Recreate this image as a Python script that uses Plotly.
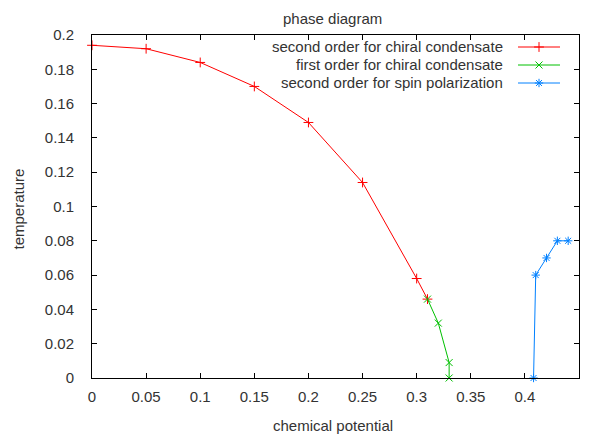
import plotly.graph_objects as go

# data
chiral2_mu = [0.0, 0.05, 0.10, 0.15, 0.20, 0.25, 0.30, 0.31]
chiral2_T = [0.194, 0.192, 0.184, 0.170, 0.149, 0.114, 0.058, 0.046]
chiral1_mu = [0.31, 0.32, 0.33, 0.33]
chiral1_T = [0.046, 0.032, 0.009, 0.0]
spin_mu = [0.408, 0.41, 0.42, 0.43, 0.44]
spin_T = [0.0, 0.06, 0.07, 0.08, 0.08]

names = ["second order for chiral condensate", "first order for chiral condensate",
         "second order for spin polarization"]
colors = ["#ff0000", "#00c000", "#0080ff"]
symbols = ["cross-thin", "x-thin", "asterisk"]
xs = [chiral2_mu, chiral1_mu, spin_mu]
ys = [chiral2_T, chiral1_T, spin_T]

x_ticks = [0, 0.05, 0.1, 0.15, 0.2, 0.25, 0.3, 0.35, 0.4, 0.45]
x_ticklabels = ["0", "0.05", "0.1", "0.15", "0.2", "0.25", "0.3", "0.35", "0.4", "0.45"]
y_ticks = [0, 0.02, 0.04, 0.06, 0.08, 0.1, 0.12, 0.14, 0.16, 0.18, 0.2]
y_ticklabels = ["0", "0.02", "0.04", "0.06", "0.08", "0.1", "0.12", "0.14", "0.16", "0.18", "0.2"]

TXT = "#333"
FS = 15

# page body has an 8px margin, so the figure sits at (8, 8) in the window
OFF = 8
W, H = 592 - OFF, 437 - OFF
L, R, T, B = 92 - OFF, 13, 35 - OFF, 59
PW, PH = W - L - R, H - T - B


def px_x(wx):
    return (wx - OFF - L) / PW


def px_y(wy):
    return (H - B - (wy - OFF)) / PH


fig = go.Figure()
for x, y, c, s, n in zip(xs, ys, colors, symbols, names):
    fig.add_trace(go.Scatter(x=x, y=y, mode="lines+markers", name=n,
                             line=dict(color=c, width=1),
                             marker=dict(symbol=s, size=7, color=c, line=dict(color=c, width=1)),
                             showlegend=False, cliponaxis=False))

# custom gnuplot-style key (text right, sample on the right)
key_rows = [47, 65, 83]
for wy, c, s, n in zip(key_rows, colors, symbols, names):
    ky = px_y(wy)
    fig.add_annotation(x=px_x(505), y=ky, xref="paper", yref="paper", text=n, showarrow=False,
                       xanchor="right", yanchor="middle", font=dict(size=FS, color=TXT))
    fig.add_trace(go.Scatter(x=[px_x(518), px_x(560)], y=[ky, ky], xaxis="x2", yaxis="y2",
                             mode="lines", line=dict(color=c, width=1), showlegend=False,
                             hoverinfo="skip"))
    fig.add_trace(go.Scatter(x=[px_x(539)], y=[ky], xaxis="x2", yaxis="y2", mode="markers",
                             marker=dict(symbol=s, size=7, color=c, line=dict(color=c, width=1)),
                             showlegend=False, hoverinfo="skip"))

# axis titles and chart title
fig.add_annotation(x=px_x(333), y=px_y(425), xref="paper", yref="paper", text="chemical potential",
                   showarrow=False, font=dict(size=FS, color=TXT), yanchor="middle")
fig.add_annotation(x=px_x(17.5), y=px_y(209), xref="paper", yref="paper", text="temperature",
                   showarrow=False, font=dict(size=FS, color=TXT), textangle=-90,
                   xanchor="center", yanchor="middle")
fig.add_annotation(x=px_x(332), y=px_y(8), xref="paper", yref="paper", text="phase diagram",
                   showarrow=False, font=dict(size=FS, color=TXT), yanchor="top")

axis_common = dict(showgrid=False, zeroline=False, showline=True, linecolor="#000", linewidth=1,
                   mirror="allticks", ticks="inside", ticklen=5, tickcolor="#000",
                   tickfont=dict(size=FS, color=TXT), automargin=False)

fig.update_layout(
    width=W, height=H,
    margin=dict(l=L, r=R, t=T, b=B, autoexpand=False),
    paper_bgcolor="white", plot_bgcolor="white",
    font=dict(family="Liberation Sans, Arial, sans-serif", size=FS, color=TXT),
    xaxis=dict(range=[0, 0.45], tickvals=x_ticks, ticktext=x_ticklabels,
               ticklabelstandoff=5, **axis_common),
    yaxis=dict(range=[0, 0.2], tickvals=y_ticks, ticktext=y_ticklabels,
               ticklabelstandoff=14, **axis_common),
    xaxis2=dict(range=[0, 1], overlaying="x", visible=False, fixedrange=True),
    yaxis2=dict(range=[0, 1], overlaying="y", visible=False, fixedrange=True),
    showlegend=False,
)

fig.write_html("out.html")
